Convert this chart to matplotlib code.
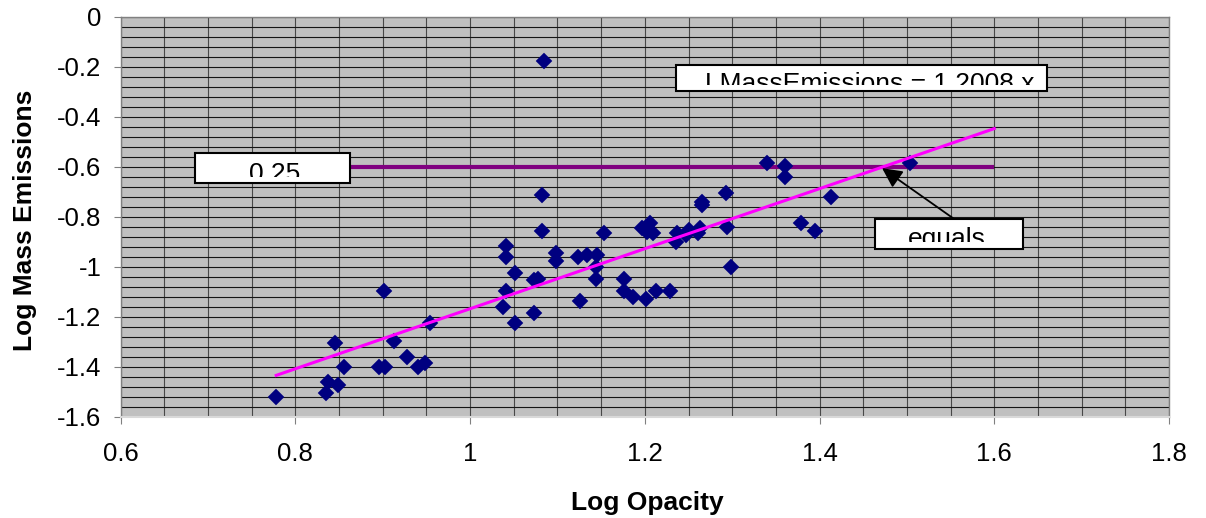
import numpy as np
from matplotlib import pyplot as plt
from matplotlib.patches import Rectangle
from matplotlib.ticker import MultipleLocator

plt.rcParams['font.family'] = ['Liberation Sans', 'DejaVu Sans']
plt.rcParams['axes.unicode_minus'] = False

# measured points (log opacity, log mass emissions)
log_opacity = [0.778, 0.845, 0.856, 0.837, 0.849, 0.835, 0.901, 0.896, 0.902, 0.913,
               0.928, 0.940, 0.948, 0.954, 1.041, 1.041, 1.051, 1.041, 1.038, 1.051,
               1.082, 1.082, 1.073, 1.078, 1.073, 1.085, 1.098, 1.098, 1.123, 1.134,
               1.145, 1.144, 1.144, 1.126, 1.153, 1.176, 1.176, 1.186, 1.201, 1.213,
               1.229, 1.197, 1.206, 1.209, 1.203, 1.237, 1.236, 1.247, 1.251, 1.263,
               1.261, 1.265, 1.265, 1.293, 1.294, 1.299, 1.340, 1.361, 1.361, 1.379,
               1.395, 1.413, 1.503]
log_mass = [-1.520, -1.304, -1.402, -1.461, -1.472, -1.506, -1.096, -1.402, -1.402, -1.297,
            -1.360, -1.402, -1.384, -1.224, -0.917, -0.962, -1.027, -1.096, -1.160, -1.227,
            -0.713, -0.857, -1.053, -1.048, -1.184, -0.177, -0.944, -0.976, -0.962, -0.953,
            -0.953, -1.003, -1.050, -1.137, -0.864, -1.048, -1.096, -1.122, -1.129, -1.096,
            -1.096, -0.847, -0.824, -0.867, -0.860, -0.867, -0.900, -0.873, -0.853, -0.847,
            -0.867, -0.742, -0.752, -0.704, -0.840, -1.000, -0.587, -0.597, -0.640, -0.824,
            -0.856, -0.720, -0.584]

# linear trend line
slope = 1.2008
intercept = -2.369
trend_x = np.array([0.778, 1.6])

# limit line: log10(0.25)
limit_x = [0.8, 1.6]
limit_y = [np.log10(0.25), np.log10(0.25)]

xticks = [0.6, 0.8, 1.0, 1.2, 1.4, 1.6, 1.8]
xticklabels = ['0.6', '0.8', '1', '1.2', '1.4', '1.6', '1.8']
yticks = [0, -0.2, -0.4, -0.6, -0.8, -1.0, -1.2, -1.4, -1.6]
yticklabels = ['0', '-0.2', '-0.4', '-0.6', '-0.8', '-1', '-1.2', '-1.4', '-1.6']

fig = plt.figure(figsize=(12.06, 5.18), dpi=100)
ax = fig.add_axes([0.1001, 0.1956, 0.8692, 0.7722])
ax.set_facecolor('#C0C0C0')
ax.set_xlim(0.6, 1.8)
ax.set_ylim(-1.6, 0)

ax.set_xticks(xticks)
ax.set_xticklabels(xticklabels)
ax.set_yticks(yticks)
ax.set_yticklabels(yticklabels)
ax.xaxis.set_minor_locator(MultipleLocator(0.05))
ax.yaxis.set_minor_locator(MultipleLocator(0.04))
ax.tick_params(which='major', direction='out', length=5, width=0.8, color='#808080',
               labelsize=18.5)
ax.tick_params(axis='x', which='major', pad=13)
ax.tick_params(axis='y', which='major', pad=9)
ax.tick_params(which='minor', length=0)
ax.grid(True, which='both', axis='x', color='#484848', lw=0.8)
ax.grid(True, which='both', axis='y', color='#151515', lw=0.8)
ax.set_axisbelow(True)

for side in ['left', 'top', 'right']:
    ax.spines[side].set_color('#808080')
    ax.spines[side].set_linewidth(1.0)
ax.spines['bottom'].set_color('#d9d9d9')
ax.spines['bottom'].set_linewidth(1.5)

ax.plot(limit_x, limit_y, color='#800080', lw=3.0, solid_capstyle='butt', zorder=2)
ax.plot(log_opacity, log_mass, linestyle='none', marker='D', ms=7.8,
        mfc='#000080', mec='#000080', mew=0.3, zorder=3)
ax.plot(trend_x, slope * trend_x + intercept, color='#FF00FF', lw=2.2, zorder=4)


def clipped_box(x0, x1, y0, y1, text, tx, ty, clip_top):
    box = Rectangle((x0, y0), x1 - x0, y1 - y0, facecolor='white', edgecolor='black',
                    lw=1.5, zorder=5)
    ax.add_patch(box)
    clip = Rectangle((x0, clip_top), x1 - x0, y1 - clip_top, transform=ax.transData)
    t = ax.text(tx, ty, text, ha='center', va='baseline', fontsize=19, zorder=6,
                clip_on=True)
    t.set_clip_path(clip)


clipped_box(0.685, 0.862, -0.665, -0.545, '0.25', 0.776, -0.657, -0.641)
clipped_box(1.236, 1.660, -0.297, -0.193, 'LMassEmissions = 1.2008 x', 1.457, -0.298, -0.273)
clipped_box(1.464, 1.633, -0.929, -0.809, 'equals', 1.546, -0.919, -0.900)

ax.annotate('', xy=(1.4716, -0.606), xytext=(1.554, -0.809),
            arrowprops=dict(arrowstyle='-|>', color='black', lw=1.3,
                            mutation_scale=30, shrinkA=0, shrinkB=0), zorder=7)

ax.text(0.502, -0.233, 'Log Opacity', transform=ax.transAxes, ha='center',
        va='baseline', fontsize=19, fontweight='bold')
ax.text(-0.0849, 0.49, 'Log Mass Emissions', transform=ax.transAxes, ha='center',
        va='baseline', rotation=90, rotation_mode='anchor', fontsize=19, fontweight='bold')

fig.savefig('out.png', dpi=100)
